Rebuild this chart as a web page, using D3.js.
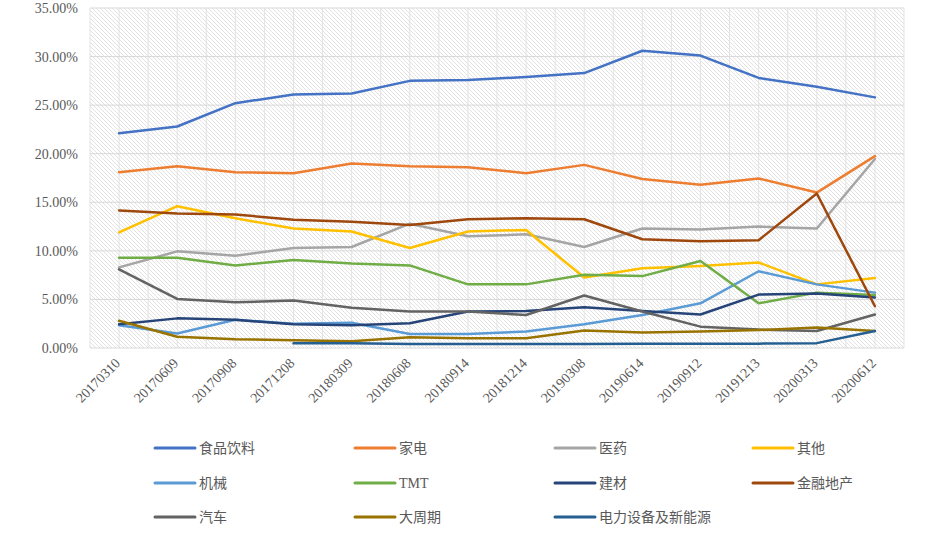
<!DOCTYPE html>
<html>
<head>
<meta charset="utf-8">
<script src="https://cdn.jsdelivr.net/npm/d3@7"></script>
<style>
  body { margin: 0; background: #fff; }
  svg text { font-family: "Liberation Serif", "Times New Roman", "Noto Sans CJK SC", serif; fill: #595959; }
</style>
</head>
<body>
<svg id="chart" width="927" height="535"></svg>
<script>
const dates = ['20170310', '20170609', '20170908', '20171208', '20180309', '20180608', '20180914',
  '20181214', '20190308', '20190614', '20190912', '20191213', '20200313', '20200612'];

const names = ['食品饮料', '家电', '医药', '其他', '机械', 'TMT', '建材', '金融地产', '汽车', '大周期', '电力设备及新能源'];

const food = [22.1, 22.8, 25.2, 26.1, 26.2, 27.5, 27.6, 27.9, 28.3, 30.6, 30.1, 27.8, 26.9, 25.8];
const appliance = [18.1, 18.7, 18.1, 18.0, 19.0, 18.7, 18.6, 18.0, 18.85, 17.4, 16.8, 17.45, 16.0, 19.75];
const medicine = [8.3, 9.95, 9.5, 10.3, 10.4, 12.8, 11.5, 11.7, 10.4, 12.3, 12.2, 12.5, 12.3, 19.45];
const other = [11.9, 14.6, 13.35, 12.3, 12.0, 10.3, 12.0, 12.15, 7.25, 8.2, 8.45, 8.8, 6.55, 7.2];
const machinery = [2.35, 1.5, 2.9, 2.5, 2.6, 1.45, 1.45, 1.7, 2.45, 3.4, 4.6, 7.9, 6.55, 5.7];
const tmt = [9.3, 9.3, 8.5, 9.05, 8.7, 8.5, 6.55, 6.55, 7.55, 7.4, 8.95, 4.6, 5.7, 5.45];
const building = [2.45, 3.05, 2.9, 2.45, 2.35, 2.55, 3.75, 3.8, 4.2, 3.8, 3.45, 5.5, 5.6, 5.2];
const finance = [14.15, 13.85, 13.75, 13.2, 13.0, 12.65, 13.25, 13.35, 13.25, 11.2, 11.0, 11.1, 15.9, 4.3];
const auto = [8.1, 5.05, 4.7, 4.9, 4.15, 3.75, 3.75, 3.4, 5.4, 3.75, 2.2, 1.9, 1.75, 3.45];
const cycle = [2.8, 1.15, 0.9, 0.8, 0.7, 1.1, 1.0, 1.0, 1.8, 1.6, 1.7, 1.85, 2.1, 1.75];
const power = [null, null, null, 0.5, 0.5, 0.4, 0.4, 0.4, 0.4, 0.45, 0.45, 0.45, 0.5, 1.75];

const yTicks = [0, 5, 10, 15, 20, 25, 30, 35];

const colors = ['#4472C4', '#ED7D31', '#A5A5A5', '#FFC000', '#5B9BD5', '#70AD47',
  '#264478', '#9E480E', '#636363', '#997300', '#255E91'];

const seriesValues = [food, appliance, medicine, other, machinery, tmt, building, finance, auto, cycle, power];
const series = names.map((name, i) => ({ name, color: colors[i], values: seriesValues[i] }));

const svg = d3.select('#chart');
const plot = { left: 90, right: 904, top: 8, bottom: 348 };

const x = d3.scaleBand().domain(dates).range([plot.left, plot.right]);
const cx = (d) => x(d) + x.bandwidth() / 2;
const y = d3.scaleLinear().domain([0, 35]).range([plot.bottom, plot.top]);

// hatched plot background
const defs = svg.append('defs');
const pat = defs.append('pattern')
  .attr('id', 'hatch')
  .attr('patternUnits', 'userSpaceOnUse')
  .attr('width', 4)
  .attr('height', 4);
pat.append('rect').attr('width', 4).attr('height', 4).attr('fill', '#fff');
pat.append('path')
  .attr('d', 'M0,0 L4,4 M-1,3 L1,5 M3,-1 L5,1')
  .attr('stroke', '#e2e2e2')
  .attr('stroke-width', 1);

svg.append('rect')
  .attr('x', plot.left)
  .attr('y', plot.top)
  .attr('width', plot.right - plot.left)
  .attr('height', plot.bottom - plot.top)
  .attr('fill', 'url(#hatch)');

// vertical grid, at category centers and boundaries
const vLines = [];
dates.forEach((d) => { vLines.push(x(d)); vLines.push(cx(d)); });
vLines.push(plot.right);
svg.append('g')
  .selectAll('line')
  .data(vLines)
  .join('line')
  .attr('x1', (d) => d).attr('x2', (d) => d)
  .attr('y1', plot.top).attr('y2', plot.bottom)
  .attr('stroke', '#e3e3e3')
  .attr('stroke-width', 1);

// horizontal grid
svg.append('g')
  .selectAll('line')
  .data(yTicks)
  .join('line')
  .attr('x1', plot.left).attr('x2', plot.right)
  .attr('y1', (d) => y(d)).attr('y2', (d) => y(d))
  .attr('stroke', '#d9d9d9')
  .attr('stroke-width', 1);

// y axis
const yAxis = d3.axisLeft(y)
  .tickValues(yTicks)
  .tickFormat((d) => d.toFixed(2) + '%')
  .tickSize(0)
  .tickPadding(12);
svg.append('g')
  .attr('transform', `translate(${plot.left},0)`)
  .call(yAxis)
  .call((g) => g.select('.domain').remove())
  .selectAll('text')
  .style('font-size', '14px');

// x axis labels
const xAxis = d3.axisBottom(x).tickSize(0).tickPadding(0);
svg.append('g')
  .attr('transform', `translate(0,${plot.bottom})`)
  .call(xAxis)
  .call((g) => g.select('.domain').remove())
  .selectAll('text')
  .style('font-size', '14px')
  .attr('text-anchor', 'end')
  .attr('dy', null)
  .attr('y', 0)
  .attr('transform', 'translate(2,16) rotate(-45)');

// lines
const line = d3.line()
  .defined((v) => v != null)
  .x((v, i) => cx(dates[i]))
  .y((v) => y(v));

svg.append('g')
  .selectAll('path')
  .data(series)
  .join('path')
  .attr('fill', 'none')
  .attr('stroke', (d) => d.color)
  .attr('stroke-width', 2.5)
  .attr('stroke-linejoin', 'round')
  .attr('stroke-linecap', 'round')
  .attr('d', (d) => line(d.values));

// legend
const legendCols = [155, 355, 555, 753];
const legendRows = [448, 483, 517];
const legend = svg.append('g')
  .selectAll('g')
  .data(series)
  .join('g')
  .attr('transform', (d, i) => `translate(${legendCols[i % 4]},${legendRows[Math.floor(i / 4)]})`);

legend.append('line')
  .attr('x1', 0).attr('x2', 40)
  .attr('stroke', (d) => d.color)
  .attr('stroke-width', 3)
  .attr('stroke-linecap', 'round');

legend.append('text')
  .attr('x', 44)
  .attr('dy', '0.35em')
  .style('font-size', '14px')
  .text((d) => d.name);
</script>
</body>
</html>
